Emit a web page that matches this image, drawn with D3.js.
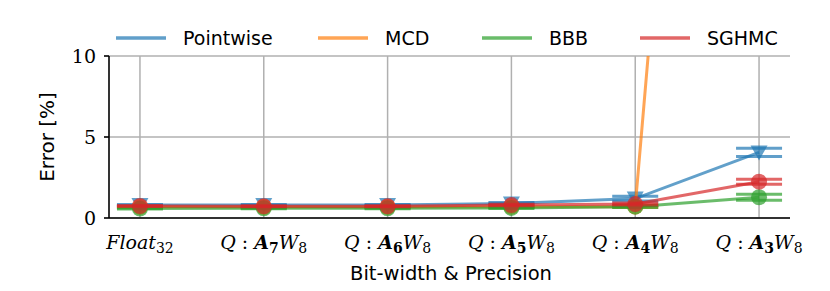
<!DOCTYPE html>
<html>
<head>
<meta charset="utf-8">
<script src="https://d3js.org/d3.v7.min.js"></script>
<style>
  body { margin: 0; background: #fff; }
  .sans { font-family: "DejaVu Sans", sans-serif; }
  .serif { font-family: "DejaVu Serif", serif; }
</style>
</head>
<body>
<script>
// categories (bit-width of activations, weights fixed at 8)
var cats = ["Float32", "A7", "A6", "A5", "A4", "A3"];
var catBits = [null, "7", "6", "5", "4", "3"];

// error [%] per method
var pointwise = [0.8, 0.8, 0.8, 0.9, 1.2, 4.05];
var mcd = [0.68, 0.68, 0.68, 0.7, 0.7, 90];
var bbb = [0.58, 0.6, 0.6, 0.62, 0.7, 1.28];
var sghmc = [0.74, 0.72, 0.72, 0.8, 0.86, 2.24];

// error bar half widths
var pointwiseErr = [0.03, 0.03, 0.03, 0.05, 0.15, 0.25];
var mcdErr = [0.03, 0.03, 0.03, 0.03, 0.05, 2];
var bbbErr = [0.03, 0.03, 0.03, 0.03, 0.05, 0.18];
var sghmcErr = [0.03, 0.03, 0.03, 0.05, 0.06, 0.15];

var yTicks = [0, 5, 10];

var series = [
  { name: "Pointwise", vals: pointwise, err: pointwiseErr, color: "#1f77b4", marker: "tri" },
  { name: "MCD", vals: mcd, err: mcdErr, color: "#ff7f0e", marker: "circle" },
  { name: "BBB", vals: bbb, err: bbbErr, color: "#2ca02c", marker: "circle" },
  { name: "SGHMC", vals: sghmc, err: sghmcErr, color: "#d62728", marker: "circle" }
];

var W = 830, H = 291;
var m = { left: 109, right: 790, top: 56, bottom: 218 };

var svg = d3.select("body").append("svg")
  .attr("width", W).attr("height", H);

var x = d3.scalePoint().domain(cats).range([m.left, m.right]).padding(0.25);
var y = d3.scaleLinear().domain([0, 10]).range([m.bottom, m.top]);

svg.append("defs").append("clipPath").attr("id", "plotclip")
  .append("rect").attr("x", m.left).attr("y", m.top)
  .attr("width", m.right - m.left).attr("height", m.bottom - m.top);

// grid
svg.append("g").selectAll("line").data(cats).enter().append("line")
  .attr("x1", d => x(d)).attr("x2", d => x(d))
  .attr("y1", m.top).attr("y2", m.bottom)
  .attr("stroke", "#b0b0b0").attr("stroke-width", 1.5);
svg.append("g").selectAll("line").data(yTicks).enter().append("line")
  .attr("x1", m.left).attr("x2", m.right)
  .attr("y1", d => y(d)).attr("y2", d => y(d))
  .attr("stroke", "#b0b0b0").attr("stroke-width", 1.5);

// data
var plot = svg.append("g").attr("clip-path", "url(#plotclip)");
var line = d3.line().x((d, i) => x(cats[i])).y(d => y(d));
var capW = 23;
var a = 0.7;

series.forEach(function (s) {
  var g = plot.append("g");
  g.append("path").datum(s.vals)
    .attr("d", line).attr("fill", "none").attr("opacity", a)
    .attr("stroke", s.color).attr("stroke-width", 3);
  s.vals.forEach(function (v, i) {
    var cx = x(cats[i]);
    [v - s.err[i], v + s.err[i]].forEach(function (e) {
      g.append("line")
        .attr("x1", cx - capW).attr("x2", cx + capW)
        .attr("y1", y(e)).attr("y2", y(e)).attr("opacity", a)
        .attr("stroke", s.color).attr("stroke-width", 3);
    });
    if (s.marker === "circle") {
      g.append("circle").attr("cx", cx).attr("cy", y(v)).attr("r", 8)
        .attr("fill", s.color).attr("opacity", a);
    } else {
      var cy = y(v);
      g.append("path")
        .attr("d", "M" + (cx - 8.5) + "," + (cy - 7) + "L" + (cx + 8.5) + "," + (cy - 7) + "L" + cx + "," + (cy + 8) + "Z")
        .attr("fill", s.color).attr("opacity", a);
    }
  });
});

// spines
svg.append("line").attr("x1", m.left).attr("x2", m.left).attr("y1", m.top).attr("y2", m.bottom)
  .attr("stroke", "#000").attr("stroke-width", 1.6);
svg.append("line").attr("x1", m.left).attr("x2", m.right).attr("y1", m.bottom).attr("y2", m.bottom)
  .attr("stroke", "#000").attr("stroke-width", 1.6);

// y ticks
var yt = svg.append("g");
yTicks.forEach(function (t) {
  yt.append("line").attr("x1", m.left - 5).attr("x2", m.left).attr("y1", y(t)).attr("y2", y(t))
    .attr("stroke", "#000").attr("stroke-width", 1.6);
  yt.append("text").attr("class", "serif")
    .attr("x", m.left - 13).attr("y", y(t)).attr("dy", "0.36em")
    .attr("text-anchor", "end").attr("font-size", 19)
    .text(t);
});

// x tick labels
cats.forEach(function (c, i) {
  var t = svg.append("text").attr("class", "serif")
    .attr("x", x(c)).attr("y", 249)
    .attr("text-anchor", "middle").attr("font-size", 19);
  if (i === 0) {
    t.append("tspan").attr("font-style", "italic").text("Float");
    t.append("tspan").attr("font-size", 14).attr("dy", 4).text("32");
  } else {
    t.append("tspan").attr("font-style", "italic").text("Q");
    t.append("tspan").text(" : ");
    t.append("tspan").attr("font-style", "italic").attr("font-weight", "bold").text("A");
    t.append("tspan").attr("font-weight", "bold").attr("font-size", 14).attr("dy", 4).text(catBits[i]);
    t.append("tspan").attr("font-style", "italic").attr("dy", -4).text("W");
    t.append("tspan").attr("font-size", 14).attr("dy", 4).text("8");
  }
});

// axis labels
svg.append("text").attr("class", "sans")
  .attr("x", 451).attr("y", 280)
  .attr("text-anchor", "middle").attr("font-size", 19.5)
  .text("Bit-width & Precision");
svg.append("text").attr("class", "sans")
  .attr("transform", "translate(54," + ((m.top + m.bottom) / 2) + ")rotate(-90)")
  .attr("text-anchor", "middle").attr("font-size", 20)
  .text("Error [%]");

// legend
var legX = [116, 318, 482, 640];
series.forEach(function (s, i) {
  var g = svg.append("g").attr("transform", "translate(" + legX[i] + ",38)");
  g.append("line").attr("x1", 0).attr("x2", 50).attr("y1", 0).attr("y2", 0)
    .attr("stroke", s.color).attr("stroke-width", 3.5).attr("opacity", a);
  g.append("text").attr("class", "sans")
    .attr("x", 67).attr("y", 0).attr("dy", "0.36em")
    .attr("font-size", 19).text(s.name);
});
</script>
</body>
</html>
